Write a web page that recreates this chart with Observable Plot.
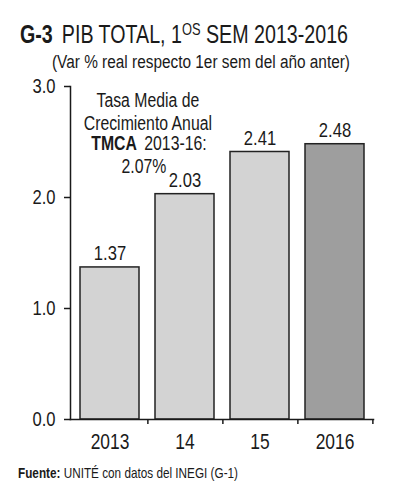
<!DOCTYPE html>
<html>
<head>
<meta charset="utf-8">
<script src="https://cdn.jsdelivr.net/npm/d3@7"></script>
<script src="https://cdn.jsdelivr.net/npm/@observablehq/plot@0.6"></script>
<style>
  html, body { margin: 0; padding: 0; background: #fff; }
  body { width: 394px; height: 500px; overflow: hidden; position: relative; font-family: "Liberation Sans", Arial, sans-serif; color: #1a1a1a; }
  .fit { position: absolute; white-space: nowrap; line-height: 1; transform-origin: 0 0; }
  #title { left: 20px; top: 21px; font-size: 26px; }
  #title b { margin-right: 12px; }
  #title .sup { font-size: 17px; vertical-align: 8px; }
  #subtitle { left: 52px; top: 53px; font-size: 18px; }
  #chart { position: absolute; left: 0; top: 74px; }
  #footer { left: 18px; top: 465px; font-size: 15px; }
</style>
</head>
<body>
<div id="title" class="fit" data-w="328"><b>G-3</b>PIB TOTAL, 1<span class="sup">OS</span> SEM 2013-2016</div>
<div id="subtitle" class="fit" data-w="298">(Var % real respecto 1er sem del año anter)</div>
<div id="chart"></div>
<div id="footer" class="fit" data-w="220"><b>Fuente:</b> UNITÉ con datos del INEGI (G-1)</div>
<script>
const years = ["2013", "14", "15", "2016"];
const values = [1.37, 2.03, 2.41, 2.48];
const fills = ["#d3d3d3", "#d3d3d3", "#d3d3d3", "#9e9e9e"];
const yTicks = [0, 1, 2, 3];
const noteLines = ["Tasa Media de", "Crecimiento Anual"];
const noteY = [2.87, 2.665, 2.485, 2.275];
const noteBold = "TMCA";
const noteRest = " 2013-16:";
const noteRate = "2.07%";

const data = years.map((y, i) => ({year: y, value: values[i], fill: fills[i]}));
const notes = noteLines.map((t, i) => ({text: t, y: noteY[i]}));

const width = 394, marginLeft = 70, marginRight = 21;
const step = (width - marginLeft - marginRight) / years.length;
const ink = "#1a1a1a";

const chart = Plot.plot({
  width,
  height: 382,
  marginTop: 12,
  marginLeft,
  marginRight,
  marginBottom: 37,
  style: {fontFamily: '"Liberation Sans", Arial, sans-serif', fontSize: "21px", color: ink, background: "transparent", overflow: "visible"},
  x: {domain: years, paddingInner: 0.22, paddingOuter: 0.11, label: null},
  y: {domain: [0, 3], label: null},
  marks: [
    Plot.barY(data, {x: "year", y: "value", fill: "fill", stroke: "#222", strokeWidth: 1.5}),
    Plot.text(data, {x: "year", y: "value", text: d => d.value.toFixed(2), dy: -14, fontSize: 21, fill: ink}),
    Plot.text(notes, {x: () => years[0], y: "y", text: "text", dx: step / 2, fontSize: 20, fill: ink}),
    Plot.text([noteBold], {x: () => years[0], y: () => noteY[2], text: d => d, dx: step / 2 - 11, textAnchor: "end", fontWeight: "bold", fontSize: 20, fill: ink}),
    Plot.text([noteRest], {x: () => years[0], y: () => noteY[2], text: d => d, dx: step / 2 - 8, textAnchor: "start", fontSize: 20, fill: ink}),
    Plot.text([noteRate], {x: () => years[0], y: () => noteY[3], text: d => d, dx: step / 2 - 4, fontSize: 20, fill: ink}),
    Plot.axisY({ticks: yTicks, tickFormat: d => d.toFixed(1), tickSize: 6, tickPadding: 9, fontSize: 21, stroke: ink, strokeWidth: 1.5}),
    Plot.axisX({tickSize: 0, tickPadding: 14, fontSize: 22}),
    Plot.axisX({tickSize: 5, tickFormat: () => "", dx: step / 2, stroke: ink, strokeWidth: 1.5}),
    Plot.frame({anchor: "left", stroke: ink, strokeWidth: 1.5}),
    Plot.frame({anchor: "bottom", stroke: ink, strokeWidth: 1.5})
  ]
});
document.getElementById("chart").appendChild(chart);

// condense all SVG text horizontally (reference uses a condensed face)
chart.querySelectorAll("text").forEach(t => {
  const parts = t.querySelectorAll("tspan");
  const els = parts.length ? Array.from(parts) : [t];
  els.forEach(e => {
    const len = e.getComputedTextLength();
    if (len > 0) {
      e.setAttribute("textLength", (len * 0.79).toFixed(2));
      e.setAttribute("lengthAdjust", "spacingAndGlyphs");
    }
  });
});

// condense HTML text blocks to their target widths
document.querySelectorAll(".fit").forEach(el => {
  const w = el.getBoundingClientRect().width;
  const target = +el.dataset.w;
  el.style.transform = `scaleX(${target / w})`;
});
</script>
</body>
</html>
